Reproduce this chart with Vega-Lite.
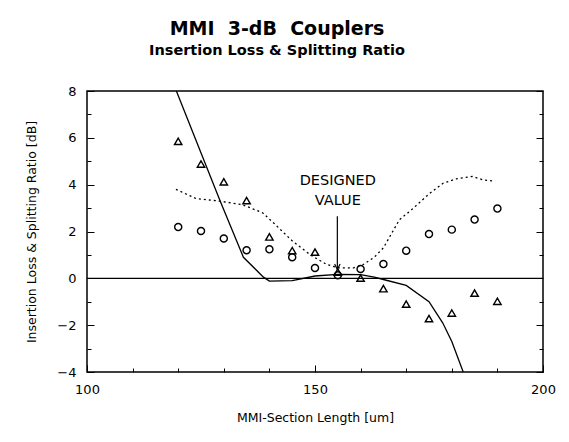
{
  "$schema": "https://vega.github.io/schema/vega-lite/v6.json",
  "width": 456,
  "height": 281,
  "autosize": {"type": "none"},
  "padding": {"left": 87, "top": 91, "right": 26, "bottom": 70},
  "background": "white",
  "config": {
    "font": "DejaVu Sans",
    "view": {"stroke": "black", "strokeWidth": 1.5},
    "axis": {"grid": false, "domain": false, "tickColor": "black", "labelColor": "black", "titleColor": "black", "tickWidth": 1}
  },
  "title": {
    "text": "MMI\u00a0\u00a03-dB\u00a0\u00a0Couplers",
    "subtitle": "Insertion Loss & Splitting Ratio",
    "fontSize": 19,
    "fontWeight": "bold",
    "subtitleFontSize": 14.5,
    "subtitleFontWeight": "bold",
    "color": "black",
    "subtitleColor": "black",
    "anchor": "middle",
    "frame": "group",
    "dx": -38,
    "offset": 28,
    "subtitlePadding": 5
  },
  "datasets": {
    "tri": [
      {"length": 120, "value": 5.85}, {"length": 125, "value": 4.88}, {"length": 130, "value": 4.12},
      {"length": 135, "value": 3.32}, {"length": 140, "value": 1.77}, {"length": 145, "value": 1.18},
      {"length": 150, "value": 1.12}, {"length": 155, "value": 0.27}, {"length": 160, "value": 0.01},
      {"length": 165, "value": -0.44}, {"length": 170, "value": -1.1}, {"length": 175, "value": -1.72},
      {"length": 180, "value": -1.48}, {"length": 185, "value": -0.63}, {"length": 190, "value": -0.98}
    ],
    "circ": [
      {"length": 120, "value": 2.19}, {"length": 125, "value": 2.02}, {"length": 130, "value": 1.7},
      {"length": 135, "value": 1.2}, {"length": 140, "value": 1.24}, {"length": 145, "value": 0.9},
      {"length": 150, "value": 0.44}, {"length": 155, "value": 0.13}, {"length": 160, "value": 0.4},
      {"length": 165, "value": 0.61}, {"length": 170, "value": 1.18}, {"length": 175, "value": 1.89},
      {"length": 180, "value": 2.08}, {"length": 185, "value": 2.51}, {"length": 190, "value": 2.98}
    ],
    "solid": [
      {"length": 119.6, "value": 8.0}, {"length": 129.2, "value": 3.3}, {"length": 134.3, "value": 0.9},
      {"length": 138.7, "value": 0.05}, {"length": 140, "value": -0.12}, {"length": 145, "value": -0.1},
      {"length": 150, "value": 0.1}, {"length": 155, "value": 0.17}, {"length": 160, "value": 0.16},
      {"length": 163, "value": 0.05}, {"length": 165, "value": -0.05}, {"length": 170, "value": -0.3},
      {"length": 175, "value": -1.0}, {"length": 178, "value": -1.9}, {"length": 180, "value": -2.7},
      {"length": 182.5, "value": -4.0}
    ],
    "dotted": [
      {"length": 119.5, "value": 3.8}, {"length": 124, "value": 3.4}, {"length": 129, "value": 3.3},
      {"length": 134, "value": 3.15}, {"length": 138.5, "value": 2.8}, {"length": 141, "value": 2.35},
      {"length": 145, "value": 1.6}, {"length": 149, "value": 1.0}, {"length": 152.5, "value": 0.6},
      {"length": 155, "value": 0.45}, {"length": 158.5, "value": 0.45}, {"length": 160.5, "value": 0.58},
      {"length": 163, "value": 0.9}, {"length": 165, "value": 1.3}, {"length": 168.5, "value": 2.5},
      {"length": 171, "value": 2.9}, {"length": 175, "value": 3.6}, {"length": 178, "value": 4.05},
      {"length": 181, "value": 4.25}, {"length": 184.5, "value": 4.35}, {"length": 187, "value": 4.2},
      {"length": 189.5, "value": 4.15}
    ],
    "ann": [
      {"length": 155, "value": 4.0, "label": "DESIGNED"},
      {"length": 155, "value": 3.15, "label": "VALUE"}
    ],
    "arrow": [
      {"length": 154.9, "top": 2.65, "tip": 0.38}
    ],
    "zero": [{"value": 0}]
  },
  "layer": [
    {
      "data": {"name": "zero"},
      "mark": {"type": "rule", "color": "black", "strokeWidth": 1.3},
      "encoding": {
        "y": {
          "field": "value", "type": "quantitative",
          "scale": {"domain": [-4, 8], "nice": false, "zero": false},
          "axis": {
            "orient": "right", "labels": false, "title": null,
            "values": [-4, -3, -2, -1, 0, 1, 2, 3, 4, 5, 6, 7, 8],
            "tickSize": {"condition": {"test": "datum.value % 2 === 0", "value": -7}, "value": -4}
          }
        }
      }
    },
    {
      "data": {"name": "solid"},
      "mark": {"type": "line", "color": "black", "strokeWidth": 1.3, "clip": true},
      "encoding": {
        "x": {
          "field": "length", "type": "quantitative",
          "scale": {"domain": [100, 200], "nice": false, "zero": false},
          "axis": {
            "title": "MMI-Section Length [um]",
            "values": [100, 105, 110, 115, 120, 125, 130, 135, 140, 145, 150, 155, 160, 165, 170, 175, 180, 185, 190, 195, 200],
            "labelExpr": "datum.value % 25 === 0 ? datum.label : ''",
            "tickSize": {"condition": {"test": "datum.value % 25 === 0", "value": -7}, "value": -4},
            "labelPadding": 18,
            "labelFontSize": 13,
            "labelOverlap": false,
            "labelFlush": false,
            "titleFontSize": 12.5,
            "titleFontWeight": "normal",
            "titlePadding": 12
          }
        },
        "y": {
          "field": "value", "type": "quantitative",
          "scale": {"domain": [-4, 8], "nice": false, "zero": false},
          "axis": {
            "title": "Insertion Loss & Splitting Ratio [dB]",
            "values": [-4, -3, -2, -1, 0, 1, 2, 3, 4, 5, 6, 7, 8],
            "labelExpr": "datum.value % 2 === 0 ? datum.label : ''",
            "tickSize": {"condition": {"test": "datum.value % 2 === 0", "value": -7}, "value": -4},
            "labelPadding": 18,
            "labelFontSize": 13,
            "labelOverlap": false,
            "labelFlush": false,
            "titleFontSize": 12.5,
            "titleFontWeight": "normal",
            "titlePadding": 18
          }
        }
      }
    },
    {
      "data": {"name": "dotted"},
      "mark": {"type": "line", "color": "black", "strokeWidth": 1.3, "strokeDash": [2, 3], "clip": true},
      "encoding": {
        "x": {"field": "length", "type": "quantitative"},
        "y": {"field": "value", "type": "quantitative", "axis": null}
      }
    },
    {
      "data": {"name": "tri"},
      "mark": {"type": "point", "shape": "triangle-up", "filled": false, "color": "black", "strokeWidth": 1.4, "size": 55, "opacity": 1},
      "encoding": {
        "x": {"field": "length", "type": "quantitative"},
        "y": {"field": "value", "type": "quantitative", "axis": null}
      }
    },
    {
      "data": {"name": "circ"},
      "mark": {"type": "point", "shape": "circle", "filled": false, "color": "black", "strokeWidth": 1.4, "size": 50, "opacity": 1},
      "encoding": {
        "x": {"field": "length", "type": "quantitative"},
        "y": {"field": "value", "type": "quantitative", "axis": null}
      }
    },
    {
      "data": {"name": "ann"},
      "mark": {"type": "text", "color": "black", "fontSize": 14.5, "align": "center", "baseline": "alphabetic"},
      "encoding": {
        "x": {"field": "length", "type": "quantitative"},
        "y": {"field": "value", "type": "quantitative", "axis": null},
        "text": {"field": "label"}
      }
    },
    {
      "data": {"name": "arrow"},
      "mark": {"type": "rule", "color": "black", "strokeWidth": 1.2},
      "encoding": {
        "x": {"field": "length", "type": "quantitative"},
        "y": {"field": "top", "type": "quantitative", "axis": null},
        "y2": {"field": "tip"}
      }
    },
    {
      "data": {"name": "arrow"},
      "mark": {"type": "point", "shape": "M-1,-2L0,0L1,-2", "filled": false, "color": "black", "strokeWidth": 1.2, "size": 30, "opacity": 1},
      "encoding": {
        "x": {"field": "length", "type": "quantitative"},
        "y": {"field": "tip", "type": "quantitative", "axis": null}
      }
    }
  ],
  "resolve": {"axis": {"y": "independent"}}
}
